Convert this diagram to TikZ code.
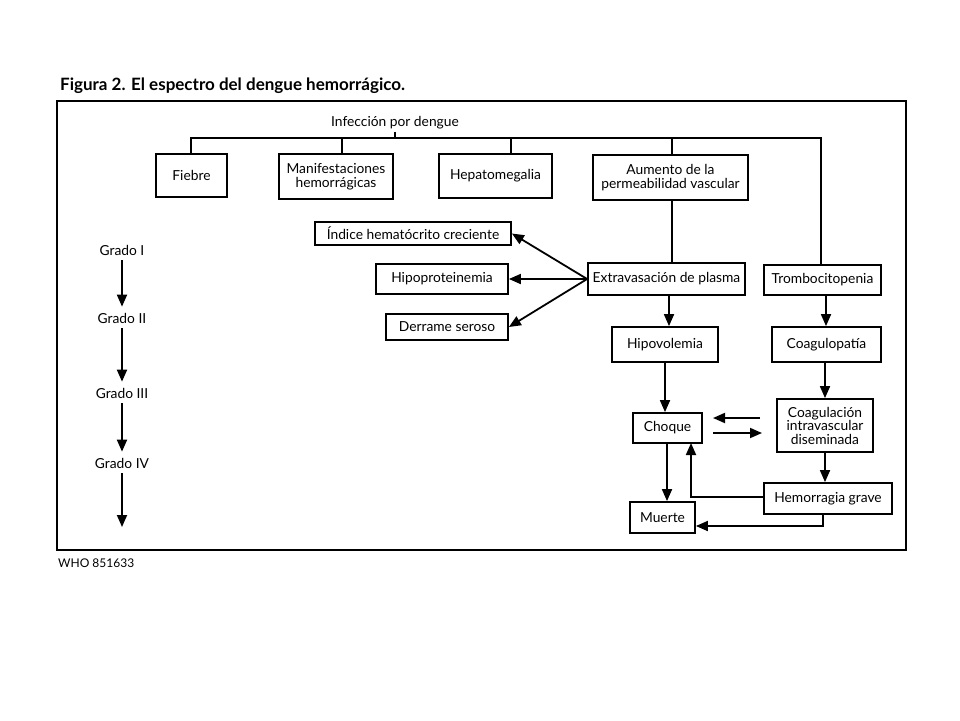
\documentclass[tikz,border=0pt]{standalone}
\usepackage{fontspec}
\setmainfont{Lato}
\usetikzlibrary{arrows.meta}
\begin{document}
\begin{tikzpicture}[x=1pt,y=-1pt,
  lw/.style={line width=1.8pt},
  box/.style={draw,lw,align=center,inner sep=2pt,font=\fontsize{13.8}{14.5}\selectfont},
  lbl/.style={inner sep=2pt,font=\fontsize{13.8}{15}\selectfont},
  arr/.style={lw,-{Triangle[length=12pt,width=10pt]}},
  ln/.style={lw}]
\useasboundingbox (0,0) rectangle (960,720);
\node[anchor=base west,inner sep=0,font=\fontsize{17}{19}\selectfont\bfseries] (title) at (60,90) {Figura 2. El espectro del dengue hemorrágico.};
\draw[lw] (57,101) rectangle (906,550);
\node[anchor=base west,inner sep=0,font=\fontsize{12}{14}\selectfont] (who) at (58,567) {WHO 851633};

\node[lbl] (infec) at (395,123) {Infección por dengue};
\node[box,minimum width=71,minimum height=43] (fiebre) at (191.5,175.5) {Fiebre};
\node[box,minimum width=114,minimum height=45] (manif) at (336,176.5) {Manifestaciones\\hemorrágicas};
\node[box,minimum width=113,minimum height=44] (hepa) at (495.5,176) {Hepatomegalia};
\node[box,minimum width=155,minimum height=45] (aum) at (670.5,177.5) {Aumento de la\\permeabilidad vascular};

\coordinate (b1) at (191,138);
\coordinate (b2) at (342,138);
\coordinate (b3) at (511,138);
\coordinate (b4) at (672,138);
\coordinate (b5) at (395,138);
\coordinate (b6) at (821,138);

\node[box,minimum width=196,minimum height=23] (indice) at (413,233.5) {Índice hematócrito creciente};
\node[box,minimum width=132,minimum height=30] (hipopro) at (442,279) {Hipoproteinemia};
\node[box,minimum width=122,minimum height=26] (derrame) at (447,327) {Derrame seroso};
\node[box,minimum width=157,minimum height=32] (extra) at (666.5,279) {Extravasación de plasma};
\node[box,minimum width=117,minimum height=30] (tromb) at (822.5,280) {Trombocitopenia};
\node[box,minimum width=106,minimum height=35] (hipov) at (665,344.5) {Hipovolemia};
\node[box,minimum width=109,minimum height=35] (coag) at (826.5,344.5) {Coagulopatía};
\node[box,minimum width=69,minimum height=30] (choque) at (667.5,428) {Choque};
\node[box,minimum width=96,minimum height=53,inner sep=1pt,font=\fontsize{13.8}{13.5}\selectfont] (cid) at (825,425.5) {Coagulación\\intravascular\\diseminada};
\node[box,minimum width=128,minimum height=31] (hemo) at (828,498.5) {Hemorragia grave};
\node[box,minimum width=65,minimum height=31] (muerte) at (662.5,517.5) {Muerte};

% top tree
\draw[ln] (infec.south -| b5) -- (b5);
\draw[ln] (b1 |- fiebre.north) -- (b1) -- (b6) -- (b6 |- tromb.north);
\draw[ln] (b2) -- (b2 |- manif.north);
\draw[ln] (b3) -- (b3 |- hepa.north);
\draw[ln] (b4) -- (b4 |- aum.north);
\draw[ln] (aum.south -| b4) -- (b4 |- extra.north);

% extravasation arrows
\draw[arr] (extra.west) -- (indice.east);
\draw[arr] (extra.west) -- (hipopro.east);
\draw[arr] (extra.west) -- (derrame.east);

\coordinate (xv1) at (669,0);
\coordinate (xv2) at (826,0);
\coordinate (xv3) at (667,0);
\draw[arr] (extra.south -| xv1) -- (xv1 |- hipov.north);
\draw[arr] (tromb.south -| xv2) -- (xv2 |- coag.north);
\draw[arr] (hipov.south) -- (hipov.south |- choque.north);
\draw[arr] (cid.north |- coag.south) -- (cid.north);
\draw[arr] (cid.south) -- (cid.south |- hemo.north);

\coordinate (d1) at (760,418);
\coordinate (d2) at (713,418);
\coordinate (d3) at (713,433);
\coordinate (d4) at (762,433);
\draw[arr] (d1) -- (d2);
\draw[arr] (d3) -- (d4);

\coordinate (k) at (691,443);
\coordinate (hw) at (0,497);
\draw[arr] (hemo.west |- hw) -| (k);
\draw[arr] (choque.south -| xv3) -- (xv3 |- muerte.north);
\coordinate (m1) at (823,526);
\draw[arr] (hemo.south -| m1) -- (m1) -- (m1 -| muerte.east);

% grades
\node[lbl] (g1) at (122,250) {Grado I};
\node[lbl] (g2) at (122,318) {Grado II};
\node[lbl] (g3) at (122,393) {Grado III};
\node[lbl] (g4) at (122,463) {Grado IV};
\coordinate (g5) at (122,527);
\draw[arr,shorten <=3pt,shorten >=4pt] (g1.south) -- (g2.north);
\draw[arr,shorten <=3pt,shorten >=4pt] (g2.south) -- (g3.north);
\draw[arr,shorten <=3pt,shorten >=4pt] (g3.south) -- (g4.north);
\draw[arr,shorten <=3pt] (g4.south) -- (g5);
\end{tikzpicture}
\end{document}
